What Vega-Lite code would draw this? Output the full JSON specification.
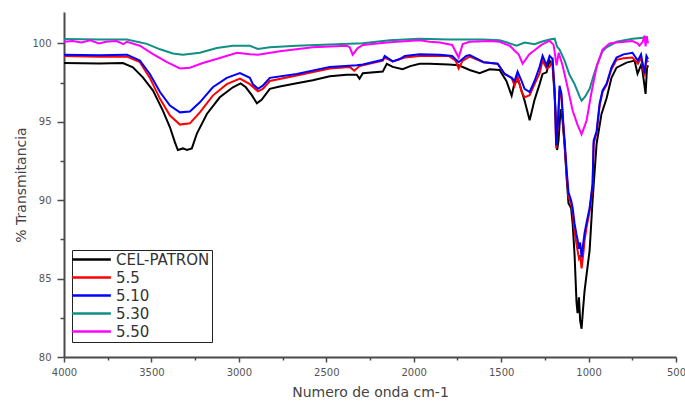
{
  "$schema": "https://vega.github.io/schema/vega-lite/v6.json",
  "width": 612,
  "height": 345,
  "autosize": {"type": "none"},
  "padding": {"left": 64, "top": 12, "right": 9, "bottom": 50},
  "background": "white",
  "config": {"view": {"stroke": null}},
  "datasets": {
    "spectra": [
      {"s":"CEL-PATRON","x":4000,"y":98.75},{"s":"CEL-PATRON","x":3800,"y":98.72},{"s":"CEL-PATRON","x":3663,"y":98.75},{"s":"CEL-PATRON","x":3606,"y":98.47},{"s":"CEL-PATRON","x":3549,"y":97.83},{"s":"CEL-PATRON","x":3491,"y":96.99},{"s":"CEL-PATRON","x":3434,"y":95.7},{"s":"CEL-PATRON","x":3394,"y":94.65},{"s":"CEL-PATRON","x":3366,"y":93.7},{"s":"CEL-PATRON","x":3349,"y":93.2},{"s":"CEL-PATRON","x":3320,"y":93.3},{"s":"CEL-PATRON","x":3297,"y":93.2},{"s":"CEL-PATRON","x":3269,"y":93.3},{"s":"CEL-PATRON","x":3240,"y":94.25},{"s":"CEL-PATRON","x":3183,"y":95.5},{"s":"CEL-PATRON","x":3109,"y":96.56},{"s":"CEL-PATRON","x":3034,"y":97.2},{"s":"CEL-PATRON","x":2990,"y":97.45},{"s":"CEL-PATRON","x":2960,"y":97.2},{"s":"CEL-PATRON","x":2926,"y":96.7},{"s":"CEL-PATRON","x":2897,"y":96.18},{"s":"CEL-PATRON","x":2870,"y":96.4},{"s":"CEL-PATRON","x":2823,"y":97.1},{"s":"CEL-PATRON","x":2766,"y":97.25},{"s":"CEL-PATRON","x":2669,"y":97.45},{"s":"CEL-PATRON","x":2577,"y":97.65},{"s":"CEL-PATRON","x":2480,"y":97.9},{"s":"CEL-PATRON","x":2383,"y":98.0},{"s":"CEL-PATRON","x":2326,"y":98.0},{"s":"CEL-PATRON","x":2310,"y":97.75},{"s":"CEL-PATRON","x":2291,"y":98.1},{"s":"CEL-PATRON","x":2177,"y":98.2},{"s":"CEL-PATRON","x":2154,"y":98.7},{"s":"CEL-PATRON","x":2120,"y":98.5},{"s":"CEL-PATRON","x":2063,"y":98.35},{"s":"CEL-PATRON","x":2020,"y":98.55},{"s":"CEL-PATRON","x":1966,"y":98.7},{"s":"CEL-PATRON","x":1909,"y":98.7},{"s":"CEL-PATRON","x":1800,"y":98.65},{"s":"CEL-PATRON","x":1743,"y":98.6},{"s":"CEL-PATRON","x":1680,"y":98.3},{"s":"CEL-PATRON","x":1623,"y":98.1},{"s":"CEL-PATRON","x":1566,"y":98.35},{"s":"CEL-PATRON","x":1509,"y":98.3},{"s":"CEL-PATRON","x":1470,"y":97.6},{"s":"CEL-PATRON","x":1440,"y":96.67},{"s":"CEL-PATRON","x":1423,"y":97.5},{"s":"CEL-PATRON","x":1400,"y":97.6},{"s":"CEL-PATRON","x":1366,"y":96.35},{"s":"CEL-PATRON","x":1337,"y":95.1},{"s":"CEL-PATRON","x":1309,"y":96.4},{"s":"CEL-PATRON","x":1280,"y":97.4},{"s":"CEL-PATRON","x":1263,"y":98.05},{"s":"CEL-PATRON","x":1240,"y":98.15},{"s":"CEL-PATRON","x":1223,"y":98.9},{"s":"CEL-PATRON","x":1206,"y":98.6},{"s":"CEL-PATRON","x":1190,"y":96.0},{"s":"CEL-PATRON","x":1180,"y":93.2},{"s":"CEL-PATRON","x":1172,"y":93.8},{"s":"CEL-PATRON","x":1160,"y":95.8},{"s":"CEL-PATRON","x":1150,"y":95.2},{"s":"CEL-PATRON","x":1137,"y":93.5},{"s":"CEL-PATRON","x":1126,"y":91.5},{"s":"CEL-PATRON","x":1115,"y":89.8},{"s":"CEL-PATRON","x":1100,"y":89.5},{"s":"CEL-PATRON","x":1091,"y":88.5},{"s":"CEL-PATRON","x":1080,"y":86.5},{"s":"CEL-PATRON","x":1069,"y":83.5},{"s":"CEL-PATRON","x":1063,"y":82.8},{"s":"CEL-PATRON","x":1055,"y":83.8},{"s":"CEL-PATRON","x":1048,"y":82.3},{"s":"CEL-PATRON","x":1040,"y":81.8},{"s":"CEL-PATRON","x":1032,"y":83.0},{"s":"CEL-PATRON","x":1023,"y":84.2},{"s":"CEL-PATRON","x":1011,"y":85.3},{"s":"CEL-PATRON","x":994,"y":86.8},{"s":"CEL-PATRON","x":977,"y":90.0},{"s":"CEL-PATRON","x":954,"y":93.6},{"s":"CEL-PATRON","x":926,"y":95.5},{"s":"CEL-PATRON","x":897,"y":96.5},{"s":"CEL-PATRON","x":869,"y":97.8},{"s":"CEL-PATRON","x":840,"y":98.45},{"s":"CEL-PATRON","x":783,"y":98.77},{"s":"CEL-PATRON","x":737,"y":98.9},{"s":"CEL-PATRON","x":720,"y":98.07},{"s":"CEL-PATRON","x":697,"y":98.7},{"s":"CEL-PATRON","x":674,"y":96.78},{"s":"CEL-PATRON","x":666,"y":98.4},{"s":"CEL-PATRON","x":660,"y":98.6},

      {"s":"5.5","x":4000,"y":99.2},{"s":"5.5","x":3800,"y":99.15},{"s":"5.5","x":3640,"y":99.15},{"s":"5.5","x":3566,"y":98.8},{"s":"5.5","x":3509,"y":97.8},{"s":"5.5","x":3451,"y":96.46},{"s":"5.5","x":3394,"y":95.4},{"s":"5.5","x":3337,"y":94.82},{"s":"5.5","x":3280,"y":94.9},{"s":"5.5","x":3223,"y":95.6},{"s":"5.5","x":3149,"y":96.67},{"s":"5.5","x":3069,"y":97.4},{"s":"5.5","x":2994,"y":97.75},{"s":"5.5","x":2937,"y":97.4},{"s":"5.5","x":2891,"y":96.94},{"s":"5.5","x":2863,"y":97.1},{"s":"5.5","x":2823,"y":97.6},{"s":"5.5","x":2669,"y":97.95},{"s":"5.5","x":2480,"y":98.4},{"s":"5.5","x":2366,"y":98.5},{"s":"5.5","x":2340,"y":98.26},{"s":"5.5","x":2310,"y":98.55},{"s":"5.5","x":2177,"y":98.9},{"s":"5.5","x":2166,"y":99.1},{"s":"5.5","x":2120,"y":98.85},{"s":"5.5","x":2051,"y":99.1},{"s":"5.5","x":1966,"y":99.2},{"s":"5.5","x":1800,"y":99.2},{"s":"5.5","x":1760,"y":98.9},{"s":"5.5","x":1743,"y":98.4},{"s":"5.5","x":1720,"y":98.9},{"s":"5.5","x":1680,"y":99.15},{"s":"5.5","x":1600,"y":98.8},{"s":"5.5","x":1520,"y":98.7},{"s":"5.5","x":1480,"y":98.05},{"s":"5.5","x":1440,"y":97.8},{"s":"5.5","x":1423,"y":97.3},{"s":"5.5","x":1406,"y":97.9},{"s":"5.5","x":1383,"y":96.9},{"s":"5.5","x":1366,"y":96.56},{"s":"5.5","x":1337,"y":96.7},{"s":"5.5","x":1309,"y":97.4},{"s":"5.5","x":1280,"y":98.1},{"s":"5.5","x":1263,"y":98.9},{"s":"5.5","x":1240,"y":98.4},{"s":"5.5","x":1223,"y":98.5},{"s":"5.5","x":1206,"y":98.9},{"s":"5.5","x":1194,"y":96.8},{"s":"5.5","x":1185,"y":93.3},{"s":"5.5","x":1175,"y":94.8},{"s":"5.5","x":1166,"y":97.0},{"s":"5.5","x":1155,"y":96.5},{"s":"5.5","x":1145,"y":94.8},{"s":"5.5","x":1137,"y":93.5},{"s":"5.5","x":1126,"y":91.8},{"s":"5.5","x":1115,"y":90.2},{"s":"5.5","x":1100,"y":89.8},{"s":"5.5","x":1091,"y":89.2},{"s":"5.5","x":1080,"y":88.0},{"s":"5.5","x":1069,"y":87.2},{"s":"5.5","x":1063,"y":86.8},{"s":"5.5","x":1055,"y":86.3},{"s":"5.5","x":1048,"y":86.5},{"s":"5.5","x":1040,"y":85.65},{"s":"5.5","x":1030,"y":86.6},{"s":"5.5","x":1023,"y":87.4},{"s":"5.5","x":1011,"y":88.3},{"s":"5.5","x":994,"y":89.3},{"s":"5.5","x":977,"y":90.9},{"s":"5.5","x":971,"y":93.6},{"s":"5.5","x":954,"y":94.3},{"s":"5.5","x":937,"y":96.0},{"s":"5.5","x":920,"y":96.9},{"s":"5.5","x":897,"y":97.35},{"s":"5.5","x":869,"y":98.35},{"s":"5.5","x":840,"y":98.95},{"s":"5.5","x":800,"y":99.05},{"s":"5.5","x":749,"y":99.1},{"s":"5.5","x":718,"y":98.7},{"s":"5.5","x":700,"y":99.1},{"s":"5.5","x":680,"y":97.9},{"s":"5.5","x":669,"y":99.0},{"s":"5.5","x":660,"y":98.8},

      {"s":"5.10","x":4000,"y":99.28},{"s":"5.10","x":3800,"y":99.25},{"s":"5.10","x":3640,"y":99.28},{"s":"5.10","x":3566,"y":98.9},{"s":"5.10","x":3509,"y":98.05},{"s":"5.10","x":3451,"y":96.9},{"s":"5.10","x":3394,"y":96.03},{"s":"5.10","x":3337,"y":95.6},{"s":"5.10","x":3280,"y":95.65},{"s":"5.10","x":3223,"y":96.24},{"s":"5.10","x":3149,"y":97.2},{"s":"5.10","x":3069,"y":97.8},{"s":"5.10","x":2994,"y":98.1},{"s":"5.10","x":2937,"y":97.8},{"s":"5.10","x":2920,"y":97.4},{"s":"5.10","x":2891,"y":97.1},{"s":"5.10","x":2863,"y":97.3},{"s":"5.10","x":2823,"y":97.8},{"s":"5.10","x":2669,"y":98.05},{"s":"5.10","x":2480,"y":98.5},{"s":"5.10","x":2326,"y":98.6},{"s":"5.10","x":2291,"y":98.65},{"s":"5.10","x":2177,"y":98.95},{"s":"5.10","x":2166,"y":99.2},{"s":"5.10","x":2120,"y":98.85},{"s":"5.10","x":2080,"y":99.0},{"s":"5.10","x":2051,"y":99.2},{"s":"5.10","x":1966,"y":99.3},{"s":"5.10","x":1850,"y":99.28},{"s":"5.10","x":1780,"y":99.2},{"s":"5.10","x":1743,"y":98.8},{"s":"5.10","x":1700,"y":99.2},{"s":"5.10","x":1680,"y":99.25},{"s":"5.10","x":1600,"y":98.8},{"s":"5.10","x":1520,"y":98.7},{"s":"5.10","x":1480,"y":98.05},{"s":"5.10","x":1440,"y":97.8},{"s":"5.10","x":1423,"y":97.6},{"s":"5.10","x":1406,"y":98.2},{"s":"5.10","x":1383,"y":97.6},{"s":"5.10","x":1366,"y":97.1},{"s":"5.10","x":1337,"y":96.9},{"s":"5.10","x":1309,"y":97.6},{"s":"5.10","x":1280,"y":98.5},{"s":"5.10","x":1263,"y":99.2},{"s":"5.10","x":1240,"y":98.6},{"s":"5.10","x":1223,"y":99.2},{"s":"5.10","x":1206,"y":99.0},{"s":"5.10","x":1194,"y":97.0},{"s":"5.10","x":1185,"y":93.5},{"s":"5.10","x":1175,"y":95.0},{"s":"5.10","x":1166,"y":97.3},{"s":"5.10","x":1155,"y":96.8},{"s":"5.10","x":1145,"y":95.0},{"s":"5.10","x":1137,"y":93.8},{"s":"5.10","x":1126,"y":92.0},{"s":"5.10","x":1115,"y":90.5},{"s":"5.10","x":1100,"y":90.0},{"s":"5.10","x":1091,"y":89.5},{"s":"5.10","x":1080,"y":88.5},{"s":"5.10","x":1069,"y":87.8},{"s":"5.10","x":1063,"y":87.5},{"s":"5.10","x":1055,"y":86.9},{"s":"5.10","x":1048,"y":87.3},{"s":"5.10","x":1040,"y":86.35},{"s":"5.10","x":1030,"y":87.3},{"s":"5.10","x":1023,"y":87.9},{"s":"5.10","x":1011,"y":88.6},{"s":"5.10","x":994,"y":89.5},{"s":"5.10","x":977,"y":91.05},{"s":"5.10","x":971,"y":93.8},{"s":"5.10","x":954,"y":94.4},{"s":"5.10","x":937,"y":96.15},{"s":"5.10","x":920,"y":97.0},{"s":"5.10","x":897,"y":97.43},{"s":"5.10","x":869,"y":98.47},{"s":"5.10","x":840,"y":99.1},{"s":"5.10","x":800,"y":99.3},{"s":"5.10","x":749,"y":99.4},{"s":"5.10","x":718,"y":98.9},{"s":"5.10","x":700,"y":99.3},{"s":"5.10","x":680,"y":98.07},{"s":"5.10","x":669,"y":99.2},{"s":"5.10","x":660,"y":99.0},

      {"s":"5.30","x":4000,"y":100.28},{"s":"5.30","x":3800,"y":100.25},{"s":"5.30","x":3640,"y":100.25},{"s":"5.30","x":3526,"y":99.97},{"s":"5.30","x":3451,"y":99.62},{"s":"5.30","x":3377,"y":99.36},{"s":"5.30","x":3320,"y":99.28},{"s":"5.30","x":3223,"y":99.4},{"s":"5.30","x":3126,"y":99.7},{"s":"5.30","x":3034,"y":99.85},{"s":"5.30","x":2937,"y":99.85},{"s":"5.30","x":2891,"y":99.64},{"s":"5.30","x":2823,"y":99.75},{"s":"5.30","x":2669,"y":99.85},{"s":"5.30","x":2480,"y":99.92},{"s":"5.30","x":2291,"y":100.0},{"s":"5.30","x":2137,"y":100.2},{"s":"5.30","x":1966,"y":100.3},{"s":"5.30","x":1800,"y":100.25},{"s":"5.30","x":1600,"y":100.25},{"s":"5.30","x":1509,"y":100.2},{"s":"5.30","x":1450,"y":100.0},{"s":"5.30","x":1411,"y":99.85},{"s":"5.30","x":1366,"y":100.05},{"s":"5.30","x":1309,"y":99.95},{"s":"5.30","x":1270,"y":100.1},{"s":"5.30","x":1223,"y":100.25},{"s":"5.30","x":1194,"y":100.3},{"s":"5.30","x":1180,"y":99.8},{"s":"5.30","x":1166,"y":99.6},{"s":"5.30","x":1137,"y":98.9},{"s":"5.30","x":1109,"y":98.0},{"s":"5.30","x":1080,"y":97.4},{"s":"5.30","x":1051,"y":96.6},{"s":"5.30","x":1040,"y":96.35},{"s":"5.30","x":1020,"y":96.6},{"s":"5.30","x":994,"y":97.1},{"s":"5.30","x":970,"y":98.0},{"s":"5.30","x":949,"y":98.7},{"s":"5.30","x":920,"y":99.5},{"s":"5.30","x":897,"y":99.75},{"s":"5.30","x":840,"y":100.1},{"s":"5.30","x":749,"y":100.3},{"s":"5.30","x":669,"y":100.38},{"s":"5.30","x":660,"y":100.4},

      {"s":"5.50","x":4000,"y":100.1},{"s":"5.50","x":3950,"y":100.15},{"s":"5.50","x":3900,"y":100.05},{"s":"5.50","x":3850,"y":100.2},{"s":"5.50","x":3800,"y":100.0},{"s":"5.50","x":3760,"y":100.1},{"s":"5.50","x":3700,"y":100.15},{"s":"5.50","x":3660,"y":99.95},{"s":"5.50","x":3640,"y":100.1},{"s":"5.50","x":3566,"y":99.85},{"s":"5.50","x":3491,"y":99.32},{"s":"5.50","x":3411,"y":98.8},{"s":"5.50","x":3337,"y":98.4},{"s":"5.50","x":3280,"y":98.45},{"s":"5.50","x":3206,"y":98.75},{"s":"5.50","x":3109,"y":99.07},{"s":"5.50","x":3011,"y":99.4},{"s":"5.50","x":2937,"y":99.3},{"s":"5.50","x":2891,"y":99.28},{"s":"5.50","x":2766,"y":99.5},{"s":"5.50","x":2577,"y":99.75},{"s":"5.50","x":2383,"y":99.85},{"s":"5.50","x":2366,"y":99.75},{"s":"5.50","x":2349,"y":99.28},{"s":"5.50","x":2320,"y":99.7},{"s":"5.50","x":2291,"y":99.9},{"s":"5.50","x":2154,"y":100.05},{"s":"5.50","x":2097,"y":100.1},{"s":"5.50","x":1966,"y":100.2},{"s":"5.50","x":1909,"y":100.1},{"s":"5.50","x":1850,"y":100.05},{"s":"5.50","x":1780,"y":99.9},{"s":"5.50","x":1743,"y":99.1},{"s":"5.50","x":1720,"y":99.95},{"s":"5.50","x":1680,"y":100.1},{"s":"5.50","x":1566,"y":100.15},{"s":"5.50","x":1509,"y":100.1},{"s":"5.50","x":1450,"y":99.85},{"s":"5.50","x":1420,"y":99.5},{"s":"5.50","x":1400,"y":99.3},{"s":"5.50","x":1377,"y":98.7},{"s":"5.50","x":1340,"y":99.3},{"s":"5.50","x":1300,"y":99.64},{"s":"5.50","x":1270,"y":99.9},{"s":"5.50","x":1223,"y":100.17},{"s":"5.50","x":1200,"y":99.9},{"s":"5.50","x":1183,"y":98.6},{"s":"5.50","x":1171,"y":99.4},{"s":"5.50","x":1149,"y":98.6},{"s":"5.50","x":1120,"y":97.2},{"s":"5.50","x":1091,"y":95.7},{"s":"5.50","x":1063,"y":94.8},{"s":"5.50","x":1040,"y":94.2},{"s":"5.50","x":1020,"y":94.8},{"s":"5.50","x":1011,"y":95.1},{"s":"5.50","x":983,"y":96.9},{"s":"5.50","x":954,"y":98.5},{"s":"5.50","x":920,"y":99.6},{"s":"5.50","x":880,"y":100.0},{"s":"5.50","x":840,"y":100.05},{"s":"5.50","x":749,"y":100.15},{"s":"5.50","x":720,"y":100.0},{"s":"5.50","x":709,"y":99.85},{"s":"5.50","x":690,"y":100.1},{"s":"5.50","x":680,"y":100.5},{"s":"5.50","x":674,"y":99.8},{"s":"5.50","x":668,"y":100.45},{"s":"5.50","x":660,"y":100.0}
    ]
  },
  "data": {"name": "spectra"},
  "mark": {"type": "line", "strokeWidth": 2, "clip": true},
  "encoding": {
    "x": {
      "field": "x", "type": "quantitative",
      "scale": {"domain": [500, 4000], "reverse": true, "nice": false, "zero": false},
      "axis": {
        "title": "Numero de onda cm-1",
        "values": [500, 750, 1000, 1250, 1500, 1750, 2000, 2250, 2500, 2750, 3000, 3250, 3500, 3750, 4000],
        "labelExpr": "datum.value % 500 === 0 ? datum.value : ''",
        "tickSize": {"condition": {"test": "datum.value % 500 === 0", "value": 5}, "value": 3},
        "grid": false,
        "domainColor": "#4a4a4a", "domainWidth": 2,
        "tickColor": "#4a4a4a", "tickWidth": 1.5,
        "labelFont": "DejaVu Sans", "labelFontSize": 10, "labelColor": "#555555",
        "labelPadding": 5, "labelFlush": false, "labelOverlap": false,
        "titleFont": "DejaVu Sans", "titleFontSize": 14, "titleFontWeight": "normal", "titleColor": "#444444",
        "titlePadding": 8
      }
    },
    "y": {
      "field": "y", "type": "quantitative",
      "scale": {"domain": [80, 102], "nice": false, "zero": false},
      "axis": {
        "title": "% Transmitancia",
        "values": [80, 82.5, 85, 87.5, 90, 92.5, 95, 97.5, 100],
        "labelExpr": "datum.value % 5 === 0 ? datum.value : ''",
        "tickSize": {"condition": {"test": "datum.value % 5 === 0", "value": 7}, "value": 4},
        "grid": false,
        "domainColor": "#4a4a4a", "domainWidth": 2,
        "tickColor": "#4a4a4a", "tickWidth": 1.5,
        "labelFont": "DejaVu Sans", "labelFontSize": 10, "labelColor": "#555555",
        "labelPadding": 6, "labelFlush": false, "labelOverlap": false,
        "titleFont": "DejaVu Sans", "titleFontSize": 14, "titleFontWeight": "normal", "titleColor": "#444444",
        "titlePadding": 3
      }
    },
    "color": {
      "field": "s", "type": "nominal",
      "scale": {"domain": ["CEL-PATRON", "5.5", "5.10", "5.30", "5.50"], "range": ["#000000", "#ff0000", "#0000ff", "#108f85", "#ff00ff"]},
      "legend": {
        "title": null,
        "orient": "none", "legendX": 8, "legendY": 238,
        "symbolType": "M-10,0H10", "symbolSize": 15, "symbolStrokeWidth": 2.5,
        "symbolOffset": 10,
        "labelFont": "DejaVu Sans", "labelFontSize": 15, "labelColor": "#333333",
        "strokeColor": "#222222", "fillColor": "#ffffff", "padding": 2,
        "rowPadding": 2, "labelOffset": 17
      }
    }
  }
}
